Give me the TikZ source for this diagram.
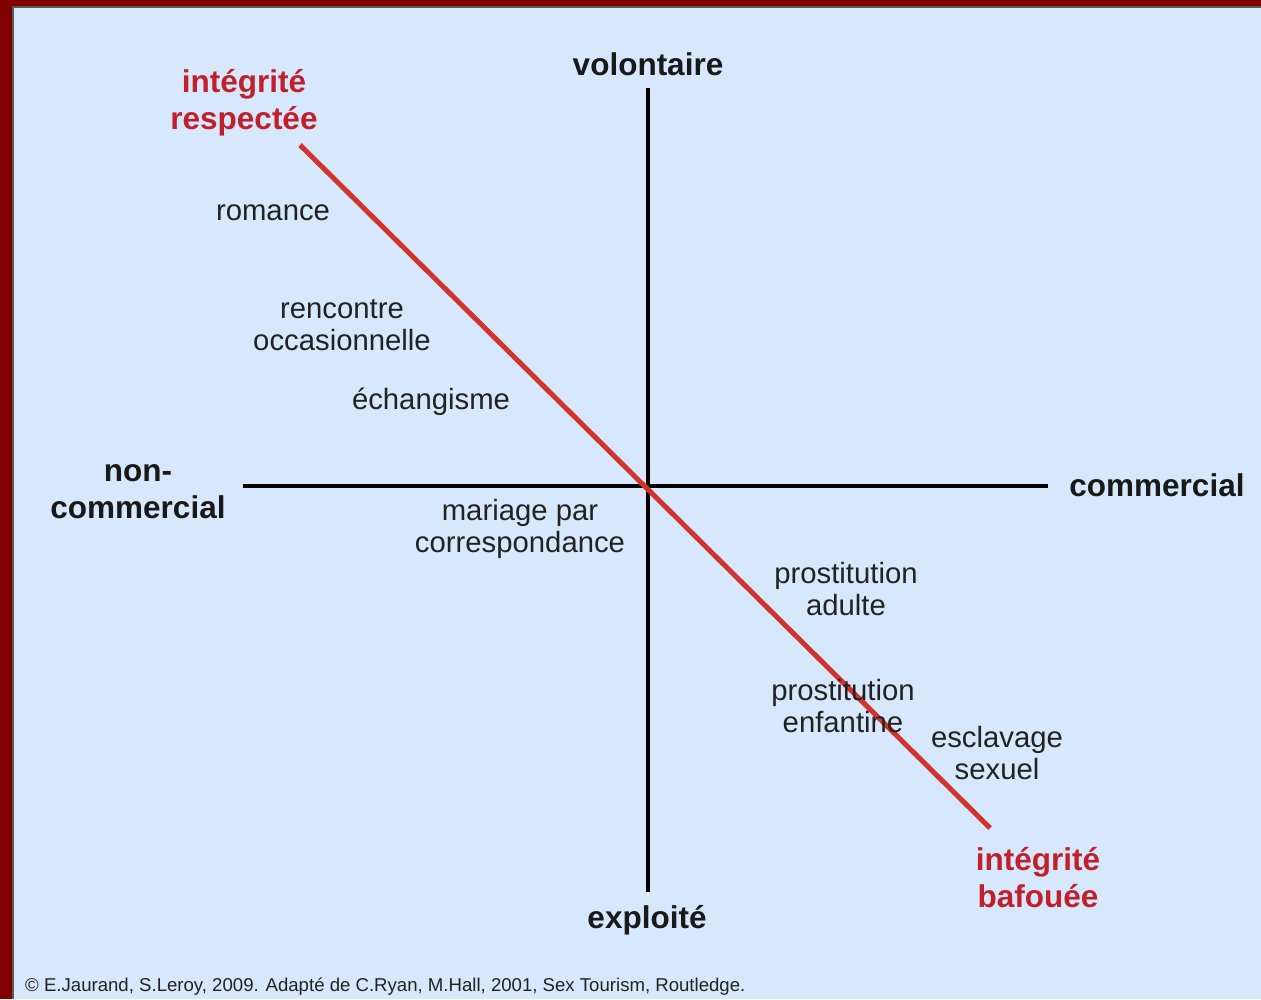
\documentclass[tikz,border=0pt]{standalone}
\usepackage{fontspec}
\setmainfont{Liberation Sans}
\definecolor{bg}{HTML}{D8E8FC}
\definecolor{frame}{HTML}{800000}
\definecolor{redline}{HTML}{D0342C}
\definecolor{redtext}{HTML}{C0202C}
\definecolor{txt}{HTML}{222222}
\tikzset{
  lbl/.style={text=txt, align=center, font=\fontsize{29.3}{32}\selectfont, inner sep=0pt},
  axlbl/.style={text=black!90, align=center, font=\bfseries\fontsize{31.5}{37}\selectfont, inner sep=0pt},
  redlbl/.style={text=redtext, align=center, font=\bfseries\fontsize{31.5}{37}\selectfont, inner sep=0pt},
  axis/.style={line width=4pt, black},
  diag/.style={line width=5pt, redline}
}
\begin{document}
\begin{tikzpicture}[x=1pt,y=-1pt]
\useasboundingbox (0,0) rectangle (1261,999);
\fill[frame] (0,0) rectangle (1261,999);
\fill[bg] (12,6) rectangle (1261,999);
\draw[line width=2pt, black!65] (13,999) -- (13,7) -- (1261,7);
% axes
\coordinate (vt) at (648,88);
\coordinate (vb) at (648,892);
\coordinate (hl) at (243,486);
\coordinate (hr) at (1048,486);
\draw[axis] (vt) -- (vb);
\draw[axis] (hl) -- (hr);
% diagonal
\coordinate (dt) at (300,145);
\coordinate (db) at (990,828);
\draw[diag] (dt) -- (db);
% axis labels
\node[axlbl] (vol) at (648,64) {volontaire};
\node[axlbl] (exp) at (647,920) {exploité};
\node[axlbl] (ncom) at (138,492) {non-\\commercial};
\node[axlbl] (com) at (1157,485) {commercial};
\node[redlbl] (ir) at (244,103) {intégrité\\respectée};
\node[redlbl] (ib) at (1038,878) {intégrité\\bafouée};
% item labels
\node[lbl] (rom) at (273,213) {romance};
\node[lbl] (ren) at (342,325) {rencontre\\occasionnelle};
\node[lbl] (ech) at (431,402) {échangisme};
\node[lbl] (mar) at (520,529) {mariage par\\correspondance};
\node[lbl] (pa) at (846,589) {prostitution\\adulte};
\node[lbl] (pe) at (843,706) {prostitution\\enfantine};
\node[lbl] (es) at (997,753) {esclavage\\sexuel};
% footer
\node[anchor=west, text=txt, font=\fontsize{18.6}{20}\selectfont, inner sep=0pt] (foot) at (25,987) {© E.Jaurand, S.Leroy, 2009. Adapté de C.Ryan, M.Hall, 2001, Sex Tourism, Routledge.};
\end{tikzpicture}
\end{document}
